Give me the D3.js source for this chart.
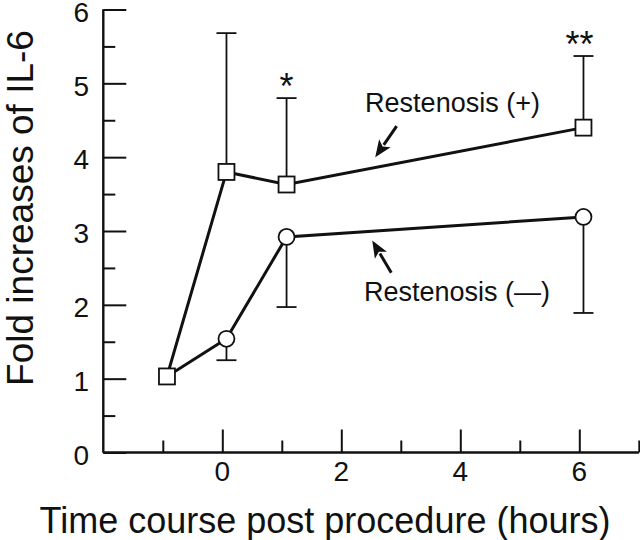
<!DOCTYPE html>
<html>
<head>
<meta charset="utf-8">
<script src="https://cdn.jsdelivr.net/npm/d3@7"></script>
<style>
  html, body { margin: 0; padding: 0; background: #fff; }
  svg { display: block; }
  text { font-family: "Liberation Sans", Arial, Helvetica, sans-serif; fill: #111; }
</style>
</head>
<body>
<svg id="chart" width="640" height="540"></svg>
<script>
// ---- data ----
const times      = [-0.93, 0.07, 1.08, 6.07];     // hours (plotted positions)
const plusMean   = [1.03, 3.80, 3.63, 4.40];      // Restenosis (+)
const plusUpper  = [null, 5.68, 4.80, 5.37];      // upper error bar (+)
const minusMean  = [1.03, 1.54, 2.92, 3.19];      // Restenosis (—)
const minusLower = [null, 1.25, 1.97, 1.89];      // lower error bar (—)
const sigMarks   = ["", "", "*", "**"];
const xMajorTicks = [0, 2, 4, 6];
const xMinorTicks = [-1, 1, 3, 5, 7];
const yMajorTicks = [0, 1, 2, 3, 4, 5, 6];
const yMinorTicks = [0.5, 1.5, 2.5, 3.5, 4.5, 5.5];
const xTitle = "Time course post procedure (hours)";
const yTitle = "Fold increases of IL-6";
const labelPlus  = "Restenosis (+)";
const labelMinus = "Restenosis (—)";

const svg = d3.select("#chart");
const x = d3.scaleLinear().domain([-2, 7]).range([103.3, 638.8]);
const y = d3.scaleLinear().domain([0, 6]).range([452.5, 9.5]);
const ink = "#111";

// ---- axes ----
const gx = svg.append("g").attr("transform", `translate(0,${y(0)})`);
gx.call(d3.axisTop(x).tickValues(xMajorTicks).tickSize(23).tickFormat(""));
gx.append("g").call(d3.axisTop(x).tickValues(xMinorTicks).tickSize(12).tickFormat(""));
gx.selectAll(".domain").attr("d", `M${x(-2)},0H${x(7)}`);
const gy = svg.append("g").attr("transform", `translate(${x(-2)},0)`);
gy.call(d3.axisRight(y).tickValues(yMajorTicks).tickSize(23).tickFormat(""));
gy.append("g").call(d3.axisRight(y).tickValues(yMinorTicks).tickSize(12).tickFormat(""));
gy.selectAll(".domain").attr("d", `M0,${y(0)}V${y(6)}`);
svg.selectAll(".domain, .tick line").attr("stroke", ink).attr("stroke-width", 2);

// tick labels
svg.append("g").selectAll("text").data(xMajorTicks).join("text")
  .attr("x", d => x(d)).attr("y", 481).attr("text-anchor", "middle")
  .attr("font-size", 28).text(d => d);
svg.append("g").selectAll("text").data(yMajorTicks).join("text")
  .attr("x", 89).attr("y", d => y(d)).attr("dy", "0.44em").attr("text-anchor", "end")
  .attr("font-size", 28).text(d => d);

// titles
svg.append("text").attr("x", 325).attr("y", 533).attr("text-anchor", "middle")
  .attr("font-size", 36).text(xTitle);
svg.append("text").attr("transform", "translate(33,208) rotate(-90)")
  .attr("text-anchor", "middle").attr("font-size", 37).text(yTitle);

// ---- error bars ----
const capW = 10;
const errG = svg.append("g").attr("stroke", ink).attr("stroke-width", 1.8).attr("fill", "none");
times.forEach((t, i) => {
  if (plusUpper[i] != null) {
    errG.append("line").attr("x1", x(t)).attr("x2", x(t)).attr("y1", y(plusMean[i])).attr("y2", y(plusUpper[i]));
    errG.append("line").attr("x1", x(t) - capW).attr("x2", x(t) + capW).attr("y1", y(plusUpper[i])).attr("y2", y(plusUpper[i]));
  }
  if (minusLower[i] != null) {
    errG.append("line").attr("x1", x(t)).attr("x2", x(t)).attr("y1", y(minusMean[i])).attr("y2", y(minusLower[i]));
    errG.append("line").attr("x1", x(t) - capW).attr("x2", x(t) + capW).attr("y1", y(minusLower[i])).attr("y2", y(minusLower[i]));
  }
});

// ---- lines ----
const line = d3.line().x(d => x(d[0])).y(d => y(d[1]));
svg.append("path").datum(d3.zip(times, minusMean)).attr("d", line)
  .attr("fill", "none").attr("stroke", ink).attr("stroke-width", 3);
svg.append("path").datum(d3.zip(times, plusMean)).attr("d", line)
  .attr("fill", "none").attr("stroke", ink).attr("stroke-width", 3);

// ---- markers ----
const sq = 16;
svg.append("g").selectAll("rect").data(d3.zip(times, plusMean)).join("rect")
  .attr("x", d => x(d[0]) - sq / 2).attr("y", d => y(d[1]) - sq / 2)
  .attr("width", sq).attr("height", sq)
  .attr("fill", "#fff").attr("stroke", ink).attr("stroke-width", 1.8);
svg.append("g").selectAll("circle").data(d3.zip(times, minusMean).slice(1)).join("circle")
  .attr("cx", d => x(d[0])).attr("cy", d => y(d[1])).attr("r", 8)
  .attr("fill", "#fff").attr("stroke", ink).attr("stroke-width", 1.8);

// ---- significance marks ----
svg.append("g").selectAll("text").data(times.map((t, i) => [t, plusUpper[i], sigMarks[i]]).filter(d => d[2]))
  .join("text")
  .attr("x", d => x(d[0]) - (d[2].length > 1 ? 4 : 0)).attr("y", d => y(d[1]) + 1)
  .attr("text-anchor", "middle").attr("font-size", 36).text(d => d[2]);

// ---- series labels with arrows ----
svg.append("text").attr("x", x(2.40)).attr("y", y(4.61)).attr("font-size", 27).text(labelPlus);
svg.append("text").attr("x", x(2.38)).attr("y", y(2.05)).attr("font-size", 27).text(labelMinus);

function arrow(x0, y0, x1, y1) {
  const X0 = x(x0), Y0 = y(y0), X1 = x(x1), Y1 = y(y1);
  const ang = Math.atan2(Y1 - Y0, X1 - X0);
  const L = 17, W = 7;
  const bx = X1 - L * Math.cos(ang), by = Y1 - L * Math.sin(ang);
  svg.append("line").attr("x1", X0).attr("y1", Y0).attr("x2", bx + 2 * Math.cos(ang)).attr("y2", by + 2 * Math.sin(ang))
    .attr("stroke", ink).attr("stroke-width", 3);
  const px = -Math.sin(ang) * W, py = Math.cos(ang) * W;
  svg.append("path")
    .attr("d", `M${X1},${Y1}L${bx + px},${by + py}L${bx + 4 * Math.cos(ang)},${by + 4 * Math.sin(ang)}L${bx - px},${by - py}Z`)
    .attr("fill", ink);
}
arrow(2.93, 4.42, 2.57, 4.00);
arrow(2.84, 2.435, 2.52, 2.87);
</script>
</body>
</html>
